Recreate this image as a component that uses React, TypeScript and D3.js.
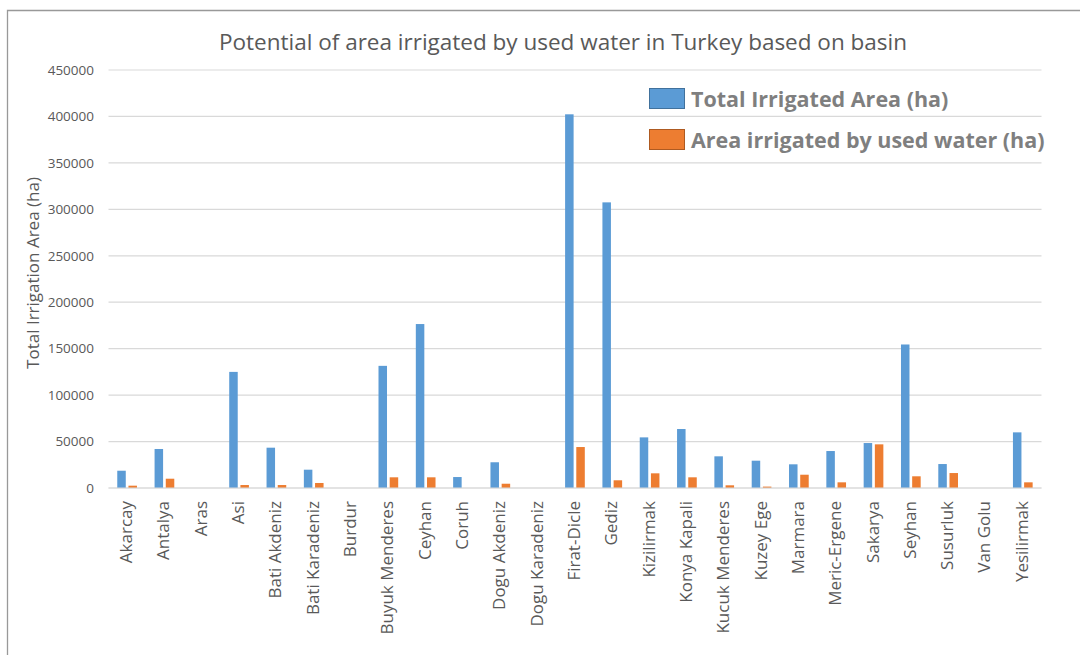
import React from "react";
import * as d3 from "d3";

const basins = [
  "Akarcay", "Antalya", "Aras", "Asi", "Bati Akdeniz", "Bati Karadeniz", "Burdur",
  "Buyuk Menderes", "Ceyhan", "Coruh", "Dogu Akdeniz", "Dogu Karadeniz", "Firat-Dicle",
  "Gediz", "Kizilirmak", "Konya Kapali", "Kucuk Menderes", "Kuzey Ege", "Marmara",
  "Meric-Ergene", "Sakarya", "Seyhan", "Susurluk", "Van Golu", "Yesilirmak",
];
const totalIrrigated = [
  18600, 42000, 0, 125000, 43400, 19700, 0, 131500, 176500, 11800, 27700, 0, 402300,
  307500, 54500, 63500, 34100, 29400, 25500, 39800, 48400, 154500, 25800, 0, 59900,
];
const usedWaterIrrigated = [
  2500, 10000, 0, 3200, 3200, 5400, 0, 11500, 11500, 0, 4600, 0, 44100,
  8300, 15800, 11500, 2900, 1500, 14300, 6100, 47000, 12600, 16100, 0, 6100,
];
const seriesNames = ["Total Irrigated Area (ha)", "Area irrigated by used water (ha)"];
const seriesColors = ["#5b9bd5", "#ed7d31"];
const yTicks = [0, 50000, 100000, 150000, 200000, 250000, 300000, 350000, 400000, 450000];
const title = "Potential of area irrigated by used water in Turkey based on basin";
const yTitle = "Total Irrigation Area (ha)";

const W = 1080;
const H = 655;
const FONT = "'Open Sans', 'Noto Sans', sans-serif";

export default function App() {
  const x0 = d3.scaleBand<string>().domain(basins).range([108.5, 1041.5]).paddingInner(0).paddingOuter(0);
  const y = d3.scaleLinear().domain([0, 450000]).range([488, 70]);
  const bw = x0.bandwidth();
  const x1 = d3.scaleBand<number>().domain([0, 1]).range([bw / 2 - 9.9, bw / 2 + 9.8]).paddingInner(0.24);
  const series = [totalIrrigated, usedWaterIrrigated];
  const [xl, xr] = x0.range();

  return (
    <svg
      width={W}
      height={H}
      style={{ position: "absolute", left: 0, top: 0, background: "#fff" }}
      fontFamily={FONT}
    >
      <rect x={0} y={0} width={W} height={H} fill="#fff" />
      {/* frame */}
      <path d={`M7.5,${H} V10.5 H${W}`} fill="none" stroke="#999" strokeWidth={1.3} />

      {/* title */}
      <text x={563} y={50} textAnchor="middle" fontSize={22.5} fill="#595959">
        {title}
      </text>

      {/* gridlines + y ticks */}
      {yTicks.map((t) => (
        <g key={t}>
          <line x1={xl} x2={xr} y1={y(t)} y2={y(t)} stroke="#d9d9d9" strokeWidth={1.2} />
          <text x={94} y={y(t)} dy="0.35em" textAnchor="end" fontSize={13.5} fill="#595959">
            {t}
          </text>
        </g>
      ))}

      {/* y axis title */}
      <text
        transform={`translate(33, 273) rotate(-90)`}
        textAnchor="middle"
        dy="0.35em"
        fontSize={17}
        fill="#595959"
      >
        {yTitle}
      </text>

      {/* bars */}
      {basins.map((b, i) => (
        <g key={b} transform={`translate(${x0(b)},0)`}>
          {series.map((s, k) =>
            s[i] > 0 ? (
              <rect
                key={k}
                x={x1(k)}
                y={y(s[i])}
                width={x1.bandwidth()}
                height={y(0) - y(s[i])}
                fill={seriesColors[k]}
              />
            ) : null
          )}
        </g>
      ))}

      {/* baseline */}
      <line x1={xl} x2={xr} y1={y(0)} y2={y(0)} stroke="#d9d9d9" strokeWidth={1.2} />

      {/* x labels */}
      {basins.map((b) => (
        <text
          key={b}
          transform={`translate(${(x0(b) as number) + bw / 2 - 1}, 501) rotate(-90)`}
          textAnchor="end"
          dy="0.35em"
          fontSize={17}
          fill="#595959"
        >
          {b}
        </text>
      ))}

      {/* legend */}
      {seriesNames.map((n, k) => (
        <g key={n} transform={`translate(649, ${88 + k * 41})`}>
          <rect x={0.5} y={0.5} width={35} height={20} fill={seriesColors[k]} stroke={k === 0 ? "#41719c" : "#ae5a21"} strokeWidth={1} />
          <text x={42} y={11} dy="0.35em" fontSize={21.5} fontWeight={700} fill="#7f7f7f">
            {n}
          </text>
        </g>
      ))}
    </svg>
  );
}
